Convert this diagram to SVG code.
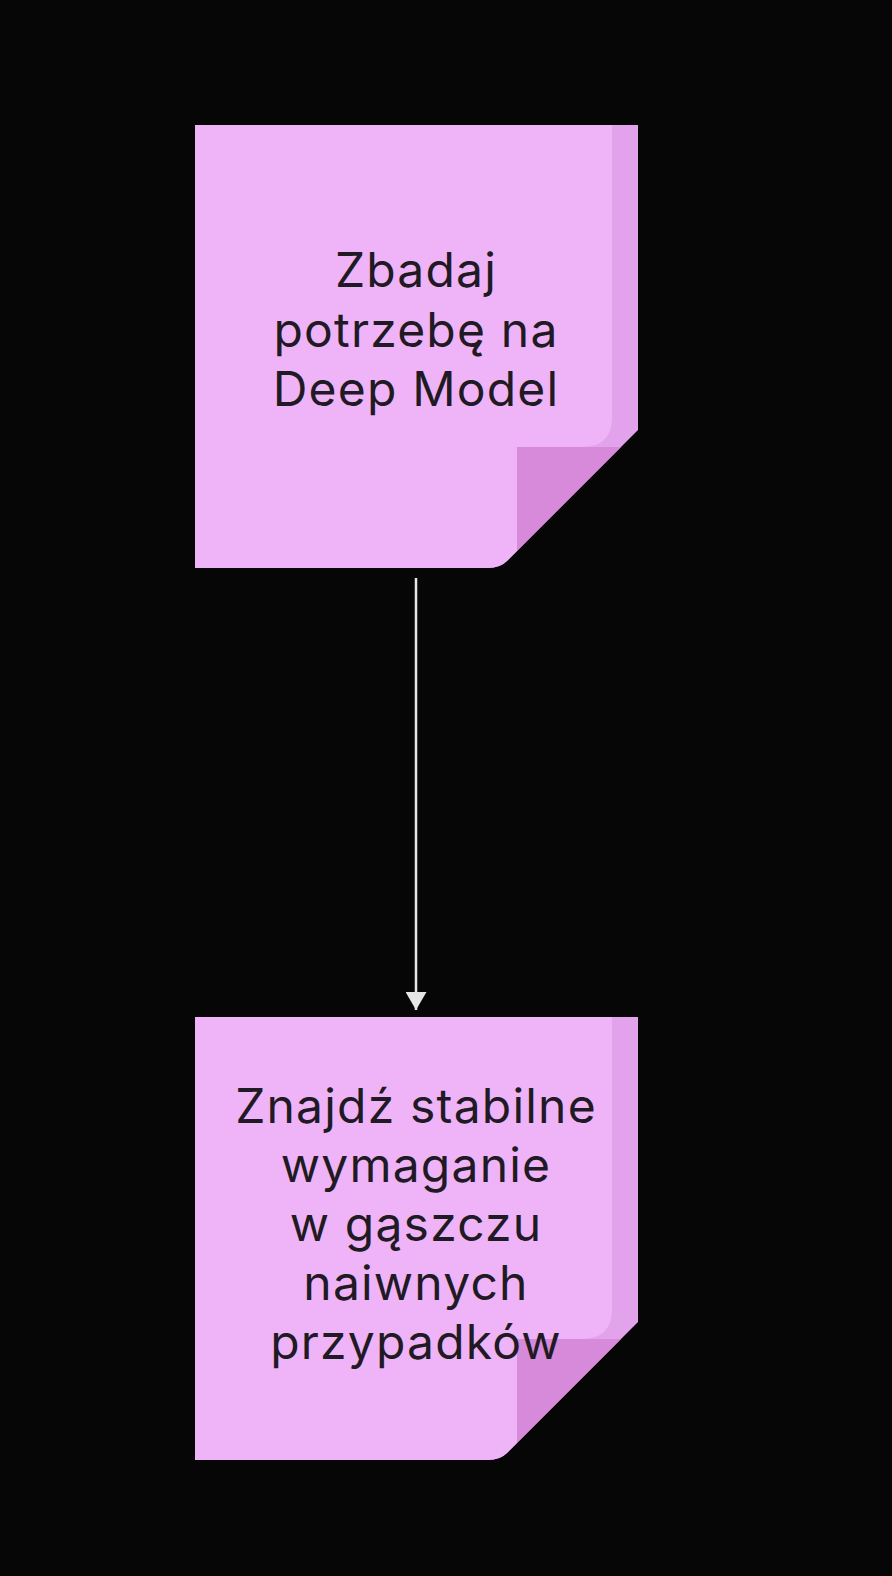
<svg xmlns="http://www.w3.org/2000/svg" width="892" height="1576" viewBox="0 0 892 1576">
<style>
.base{fill:#e2a2ec}
.main{fill:#efb4f8}
.fold{fill:#d68ad9}
.lbl{font-family:Inter,"Open Sans","Noto Sans",sans-serif;font-size:48px;letter-spacing:1.2px;fill:#1f1a24;text-anchor:middle}
.edge{stroke:#e6e6e6;stroke-width:2.5;fill:none}
</style>
<defs>
<clipPath id="c1"><path d="M195,125 H638 V430 L507,561 Q500,568 488,568 H195 Z"/></clipPath>
<clipPath id="c2"><path d="M195,1017 H638 V1322 L507,1453 Q500,1460 488,1460 H195 Z"/></clipPath>
<marker id="ah" markerWidth="18" markerHeight="21" refX="18" refY="10.5" orient="auto" markerUnits="userSpaceOnUse">
<path d="M0,0 L18,10.5 L0,21 Z" fill="#e6e6e6"/>
</marker>
</defs>
<rect width="892" height="1576" fill="#060606"/>
<g id="connectors">
<line class="edge" x1="416" y1="578" x2="416" y2="1010" marker-end="url(#ah)"/>
</g>
<g id="node1">
<g clip-path="url(#c1)">
<rect class="base" x="195" y="125" width="443" height="443"/>
<path class="main" d="M195,125 H612 V417 Q612,447 582,447 H517 V568 H195 Z"/>
<path class="fold" d="M517,447 H650 L517,580 Z"/>
</g>
<text class="lbl" x="416" y="287">Zbadaj</text>
<text class="lbl" x="416" y="347">potrzebę na</text>
<text class="lbl" x="416" y="406">Deep Model</text>
</g>
<g id="node2">
<g clip-path="url(#c2)">
<rect class="base" x="195" y="1017" width="443" height="443"/>
<path class="main" d="M195,1017 H612 V1309 Q612,1339 582,1339 H517 V1460 H195 Z"/>
<path class="fold" d="M517,1339 H650 L517,1472 Z"/>
</g>
<text class="lbl" x="416" y="1123">Znajdź stabilne</text>
<text class="lbl" x="416" y="1182">wymaganie</text>
<text class="lbl" x="416" y="1241">w gąszczu</text>
<text class="lbl" x="416" y="1300">naiwnych</text>
<text class="lbl" x="416" y="1359">przypadków</text>
</g>
</svg>
